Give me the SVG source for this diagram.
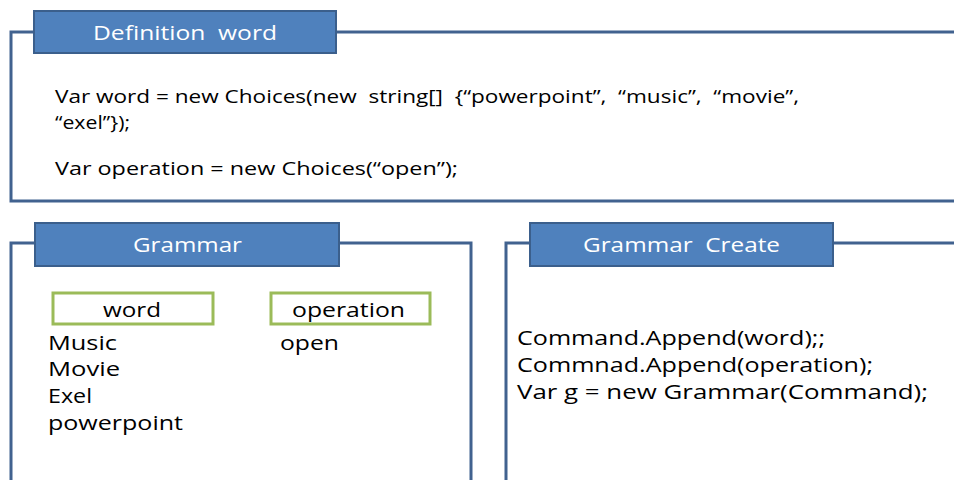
<svg xmlns="http://www.w3.org/2000/svg" width="954" height="480" viewBox="0 0 954 480">
<style>
text{white-space:pre}
.frame{fill:none;stroke:#41628f;stroke-width:3}
.title{fill:#4f81bd;stroke:#3b5f8c;stroke-width:2}
.ttext{font-family:"Open Sans","Noto Sans",sans-serif;font-size:20px;fill:#ffffff}
.body{font-family:"Open Sans","Noto Sans",sans-serif;font-size:19px;fill:#000000}
.big{font-family:"Open Sans","Noto Sans",sans-serif;font-size:20.5px;fill:#000000}
.tag{fill:#ffffff;stroke:#9bbb59;stroke-width:3}
</style>
<rect width="954" height="480" fill="#ffffff"/>
<g id="definition">
<path class="frame" d="M960,32 H11 V201 H960"/>
<rect class="title" x="34" y="11" width="302" height="42"/>
<text class="ttext" x="93" y="40" textLength="184" lengthAdjust="spacingAndGlyphs">Definition  word</text>
<text class="body" x="55" y="103" textLength="744" lengthAdjust="spacingAndGlyphs">Var word = new Choices(new  string[]  {“powerpoint”,  “music”,  “movie”,</text>
<text class="body" x="55" y="129" textLength="75" lengthAdjust="spacingAndGlyphs">“exel”});</text>
<text class="body" x="55" y="175" textLength="403" lengthAdjust="spacingAndGlyphs">Var operation = new Choices(“open”);</text>
</g>
<g id="grammar">
<path class="frame" d="M11,485 V243 H471 V485"/>
<rect class="title" x="35" y="223" width="304" height="43"/>
<text class="ttext" x="133" y="252" textLength="109" lengthAdjust="spacingAndGlyphs">Grammar</text>
<g id="word">
<rect class="tag" x="53" y="293" width="160" height="31"/>
<text class="big" x="103" y="317" textLength="58" lengthAdjust="spacingAndGlyphs">word</text>
</g>
<g id="operation">
<rect class="tag" x="271" y="293" width="159" height="31"/>
<text class="big" x="292" y="317" textLength="113" lengthAdjust="spacingAndGlyphs">operation</text>
</g>
<text class="big" x="48" y="350" textLength="69" lengthAdjust="spacingAndGlyphs">Music</text>
<text class="big" x="48" y="376" textLength="72" lengthAdjust="spacingAndGlyphs">Movie</text>
<text class="big" x="48" y="403" textLength="44" lengthAdjust="spacingAndGlyphs">Exel</text>
<text class="big" x="48" y="430" textLength="135" lengthAdjust="spacingAndGlyphs">powerpoint</text>
<text class="big" x="280" y="350" textLength="59" lengthAdjust="spacingAndGlyphs">open</text>
</g>
<g id="grammar-create">
<path class="frame" d="M506,485 V243 H960"/>
<rect class="title" x="530" y="223" width="303" height="43"/>
<text class="ttext" x="583" y="252" textLength="197" lengthAdjust="spacingAndGlyphs">Grammar  Create</text>
<text class="big" x="517" y="345" textLength="308" lengthAdjust="spacingAndGlyphs">Command.Append(word);;</text>
<text class="big" x="517" y="372" textLength="356" lengthAdjust="spacingAndGlyphs">Commnad.Append(operation);</text>
<text class="big" x="517" y="399" textLength="411" lengthAdjust="spacingAndGlyphs">Var g = new Grammar(Command);</text>
</g>
</svg>
